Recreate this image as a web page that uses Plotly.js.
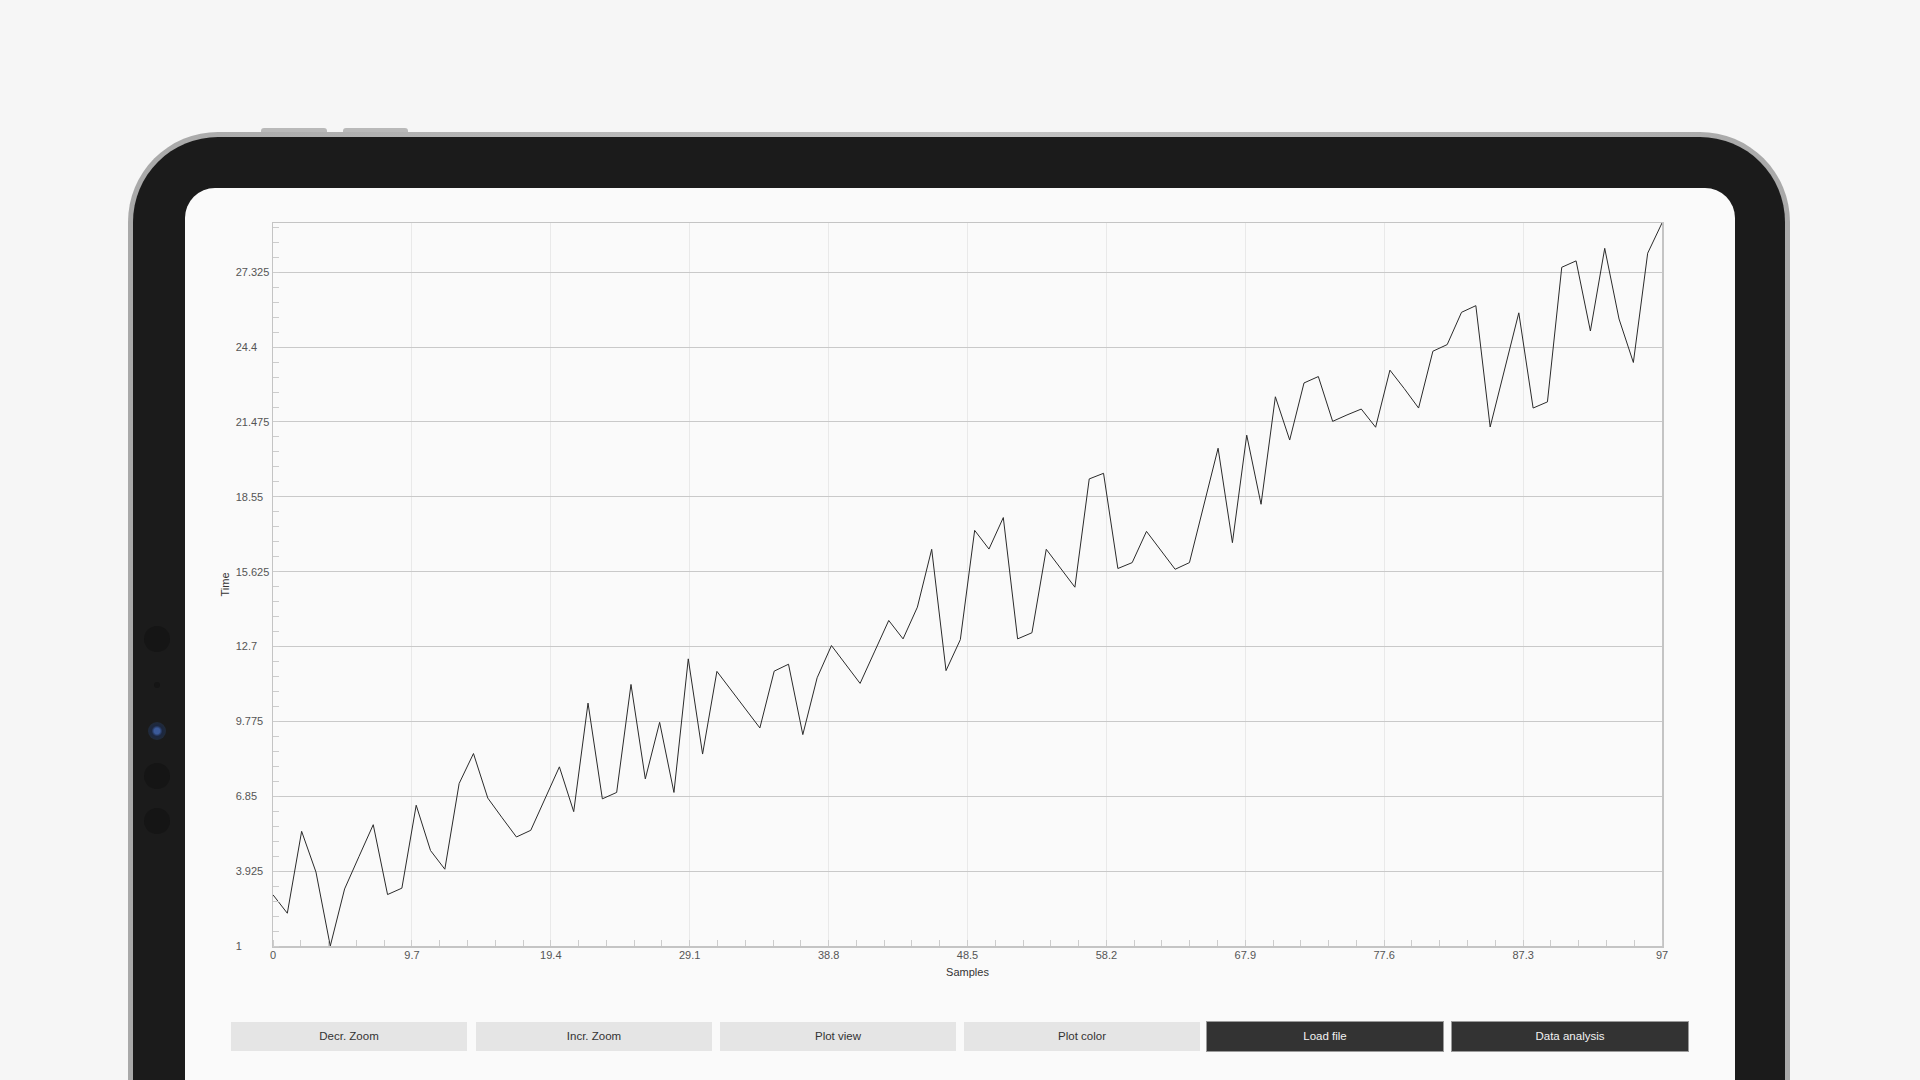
<!DOCTYPE html>
<html>
<head>
<meta charset="utf-8">
<script src="https://cdn.plot.ly/plotly-3.0.1.min.js"></script>
<style>
  html, body { margin:0; padding:0; width:1920px; height:1080px; overflow:hidden; background:#f6f6f6; font-family:"Liberation Sans", Arial, sans-serif; }
  .topbtn { position:absolute; top:128px; height:6px; background:#b9b9b9; border-radius:3px 3px 0 0; }
  .device { position:absolute; left:128px; top:132px; width:1662px; height:1100px; border-radius:90px; background:linear-gradient(90deg,#a9a9a9,#c4c4c4 50%,#a9a9a9); }
  .bezel { position:absolute; left:5px; top:5px; right:5px; bottom:0; border-radius:85px; background:#1b1b1b; }
  .screen { position:absolute; left:185px; top:188px; width:1550px; height:1000px; border-radius:30px; background:#fafafa; }
  .dot { position:absolute; border-radius:50%; background:#151515; }
  .cam { position:absolute; left:148px; top:722px; width:18px; height:18px; border-radius:50%; background:radial-gradient(circle,#3b5a9a 0 22%,#1c2740 42%,#202a3a 68%,#1b1b1b 100%); }
  #chart { position:absolute; left:0; top:0; width:1920px; height:1080px; }
  .btn { position:absolute; top:1022px; height:29px; line-height:29px; text-align:center; font-family:"Liberation Sans Narrow","Liberation Sans",Arial,sans-serif; font-size:11.5px; }
  .light { background:#e5e5e5; color:#333; }
  .dark { background:#333333; color:#f2f2f2; box-shadow:0 0 0 1px #9a9a9a; }
</style>
</head>
<body>
<div class="topbtn" style="left:261px;width:66px;"></div>
<div class="topbtn" style="left:343px;width:65px;"></div>
<div class="device"><div class="bezel"></div></div>
<div class="dot" style="left:144px;top:626px;width:26px;height:26px;"></div>
<div class="dot" style="left:154px;top:682px;width:6px;height:6px;"></div>
<div class="cam"></div>
<div class="dot" style="left:144px;top:763px;width:26px;height:26px;"></div>
<div class="dot" style="left:144px;top:808px;width:26px;height:26px;"></div>
<div class="screen"></div>
<div id="chart"></div>
<div id="buttons"></div>
<script>
// ---- data ----
var samples = [0,1,2,3,4,5,6,7,8,9,10,11,12,13,14,15,16,17,18,19,20,21,22,23,24,25,26,27,28,29,30,31,32,33,34,35,36,37,38,39,40,41,42,43,44,45,46,47,48,49,50,51,52,53,54,55,56,57,58,59,60,61,62,63,64,65,66,67,68,69,70,71,72,73,74,75,76,77,78,79,80,81,82,83,84,85,86,87,88,89,90,91,92,93,94,95,96,97];
var timeValues = [3.00,2.28,5.48,3.89,1.00,3.23,4.49,5.74,3.01,3.26,
  6.50,4.73,4.00,7.35,8.52,6.78,6.01,5.26,5.52,6.76,
  8.00,6.25,10.49,6.75,7.00,11.22,7.53,9.74,7.00,12.22,
  8.50,11.73,11.00,10.25,9.52,11.74,12.01,9.26,11.48,12.74,
  12.02,11.26,12.49,13.72,13.00,14.24,16.50,11.76,12.97,17.24,
  16.51,17.74,13.00,13.24,16.50,15.77,15.02,19.25,19.47,15.75,
  15.98,17.20,16.46,15.72,15.98,18.22,20.45,16.76,20.96,18.26,
  22.46,20.77,23.00,23.25,21.50,21.75,21.98,21.27,23.50,22.78,
  22.02,24.24,24.50,25.76,26.02,21.28,23.51,25.74,22.02,22.26,
  27.52,27.77,25.03,28.26,25.50,23.80,28.07,29.25];
var xTickVals = [0,9.7,19.4,29.1,38.8,48.5,58.2,67.9,77.6,87.3,97];
var xTickText = ["0","9.7","19.4","29.1","38.8","48.5","58.2","67.9","77.6","87.3","97"];
var yTickVals = [1,3.925,6.85,9.775,12.7,15.625,18.55,21.475,24.4,27.325];
var yTickText = ["1","3.925","6.85","9.775","12.7","15.625","18.55","21.475","24.4","27.325"];
var xTitle = "Samples";
var yTitle = "Time";
var buttonLabels = ["Decr. Zoom","Incr. Zoom","Plot view","Plot color","Load file","Data analysis"];
var buttonDark = [false,false,false,false,true,true];

// ---- buttons ----
var btnLeft = [231,476,720,964,1207,1452];
var bc = document.getElementById('buttons');
buttonLabels.forEach(function(t,i){
  var d = document.createElement('div');
  d.className = 'btn ' + (buttonDark[i] ? 'dark' : 'light');
  d.style.left = btnLeft[i] + 'px';
  d.style.width = '236px';
  d.textContent = t;
  bc.appendChild(d);
});

// ---- chart ----
var font = "Liberation Sans, Arial, sans-serif";
var trace = {
  x: samples, y: timeValues, type: 'scatter', mode: 'lines',
  line: {color:'#2b2b2b', width:1}, hoverinfo:'skip'
};
var layout = {
  width:1920, height:1080,
  margin:{l:273, r:258, t:223, b:134, pad:0},
  paper_bgcolor:'rgba(0,0,0,0)', plot_bgcolor:'#fafafa',
  showlegend:false,
  font:{family:font, color:'#555'},
  xaxis:{
    range:[samples[0], samples[samples.length-1]],
    tickmode:'array', tickvals:xTickVals, ticktext:xTickText,
    ticks:'', showgrid:true, gridcolor:'#e9e9e9', gridwidth:1,
    showline:true, linecolor:'#c4c4c4', linewidth:1.5, mirror:true, zeroline:false,
    tickfont:{family:font, size:11, color:'#555'}, ticklabelstandoff:-2,
    title:{text:xTitle, font:{family:font, size:11, color:'#333'}, standoff:8},
    minor:{tick0:0, dtick:1.94, ticks:'inside', ticklen:6, tickcolor:'#cccccc', tickwidth:1, showgrid:false}
  },
  yaxis:{
    range:[Math.min.apply(null,timeValues), Math.max.apply(null,timeValues)],
    tickmode:'array', tickvals:yTickVals, ticktext:yTickText,
    ticks:'', showgrid:true, gridcolor:'#c9c9c9', gridwidth:1,
    showline:true, linecolor:'#c4c4c4', linewidth:1.5, mirror:true, zeroline:false,
    tickfont:{family:font, size:11, color:'#555'}, ticklabelstandoff:4,
    title:{text:yTitle, font:{family:font, size:11, color:'#333'}, standoff:0},
    minor:{tick0:1, dtick:0.585, ticks:'inside', ticklen:6, tickcolor:'#cccccc', tickwidth:1, showgrid:false}
  }
};
Plotly.newPlot('chart', [trace], layout, {staticPlot:true, displayModeBar:false}).then(function(gd){
  // left-align the y tick labels like the reference
  var texts = gd.querySelectorAll('.yaxislayer-above .ytick text');
  var minLeft = Infinity;
  texts.forEach(function(t){ var b = t.getBBox(); if (b.x < minLeft) minLeft = b.x; });
  texts.forEach(function(t){
    t.setAttribute('text-anchor','start');
    t.setAttribute('x', minLeft + 4);
  });
});
</script>
</body>
</html>
